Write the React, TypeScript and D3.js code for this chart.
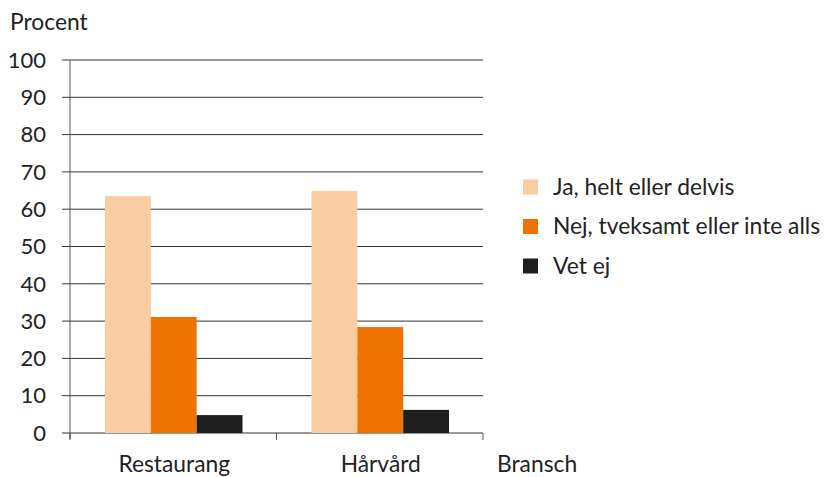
import React from "react";
import * as d3 from "d3";

const categories = ["Restaurang", "Hårvård"];
const seriesNames = ["Ja, helt eller delvis", "Nej, tveksamt eller inte alls", "Vet ej"];
const jaValues = [63.5, 64.9];
const nejValues = [31.1, 28.4];
const vetValues = [4.8, 6.2];
const yTicks = [0, 10, 20, 30, 40, 50, 60, 70, 80, 90, 100];
const colors = ["#F9CCA1", "#EE7300", "#1E1E1E"];

export default function App() {
  const W = 824, H = 477;
  const left = 70, right = 483, top = 60, bottom = 433;
  const font = "Lato, 'Open Sans', sans-serif";
  const fs = 22.8;
  const y = d3.scaleLinear().domain([0, 100]).range([bottom, top]);
  const x0 = d3.scaleBand().domain(categories).range([left, right]).paddingInner(0).paddingOuter(0);
  const x1 = d3.scaleBand().domain(seriesNames).range([35, x0.bandwidth() - 34]).padding(0);
  const series = [jaValues, nejValues, vetValues];

  return (
    <svg width={W} height={H} style={{ position: "absolute", left: 0, top: 0 }}>
      <text x={10} y={30} fontFamily={font} fontSize={fs} fill="#222">Procent</text>
      {yTicks.map((t) => (
        <g key={t}>
          <line x1={62} x2={right} y1={y(t)} y2={y(t)} stroke="#333" strokeWidth={1} />
          <text x={46} y={y(t)} dy="0.35em" textAnchor="end" fontFamily={font} fontSize={22} fill="#222">{t}</text>
        </g>
      ))}
      <line x1={left} x2={left} y1={top} y2={bottom + 6} stroke="#555" strokeWidth={1} />
      {[left, left + x0.bandwidth(), right].map((xx, i) => (
        <line key={i} x1={xx} x2={xx} y1={bottom} y2={bottom + 7} stroke="#555" strokeWidth={1} />
      ))}
      {categories.map((c, ci) => (
        <g key={c} transform={`translate(${x0(c)},0)`}>
          {seriesNames.map((s, si) => (
            <rect key={s} x={x1(s)} width={x1.bandwidth()} y={y(series[si][ci])} height={bottom - y(series[si][ci])} fill={colors[si]} />
          ))}
          <text x={x0.bandwidth() / 2 + 1} y={472} textAnchor="middle" fontFamily={font} fontSize={fs} fill="#222">{c}</text>
        </g>
      ))}
      <text x={497} y={472} fontFamily={font} fontSize={fs} fill="#222">Bransch</text>
      {seriesNames.map((s, i) => (
        <g key={s} transform={`translate(523,${187 + i * 39.5})`}>
          <rect x={0} y={-7.5} width={15} height={15} fill={colors[i]} />
          <text x={30} y={0} dy="0.35em" fontFamily={font} fontSize={fs} fill="#222">{s}</text>
        </g>
      ))}
    </svg>
  );
}
